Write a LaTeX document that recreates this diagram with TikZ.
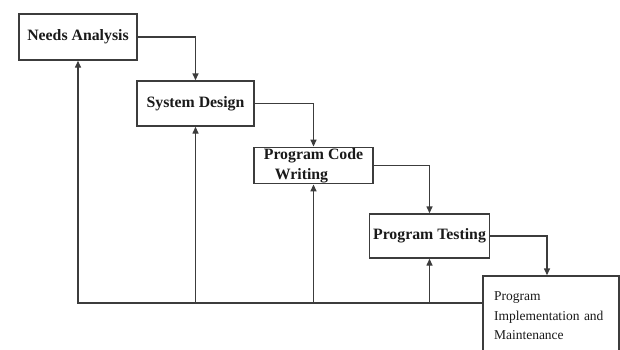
\documentclass[tikz,border=0pt]{standalone}
\usepackage{fontspec}
\setmainfont{Liberation Serif}
\usetikzlibrary{arrows.meta}
\definecolor{linecol}{HTML}{3C3C3C}
\definecolor{textcol}{HTML}{1A1A1A}

\begin{document}
\begin{tikzpicture}[x=1pt,y=-1pt,
  stage/.style={draw=linecol,line width=1.4pt,text=textcol,inner ysep=1pt,
    font=\fontsize{15.8}{20}\selectfont\bfseries},
  flow/.style={draw=linecol,line width=1.4pt,-{Triangle[length=7pt,width=6pt]}}]
\clip (0,0) rectangle (620,349);
\fill[white] (0,0) rectangle (620,349);

\node[stage,minimum width=118pt,minimum height=46pt] (needs) at (78,37) {Needs Analysis};
\node[stage,minimum width=117pt,minimum height=45pt] (design) at (195.5,103.5) {System Design};
\node[stage,minimum width=119pt,minimum height=35pt,align=left] (code) at (313.5,165.5) {Program Code\\\hspace{11pt}Writing};
\node[stage,minimum width=117pt,minimum height=44pt] (testing) at (429.5,236) {Program Testing};
\node[stage,font=\fontsize{13.5}{19.5}\selectfont,text width=114pt,inner xsep=11pt,
  minimum height=80pt,align=left] (impl) at (551,316) {Program\\Implementation and\\Maintenance};

\draw[flow] (needs.east) -| (design.north);
\draw[flow] (design.east) -| (code.north);
\draw[flow] (code.east) -| (testing.north);
\draw[flow] (testing.east) -| ([xshift=-4pt]impl.north);

\coordinate (base) at (impl.west |- 0,303);
\draw[flow] (base) -| (needs.south);
\draw[flow] (base -| design.south) -- (design.south);
\draw[flow] (base -| code.south) -- (code.south);
\draw[flow] (base -| testing.south) -- (testing.south);
\end{tikzpicture}
\end{document}
